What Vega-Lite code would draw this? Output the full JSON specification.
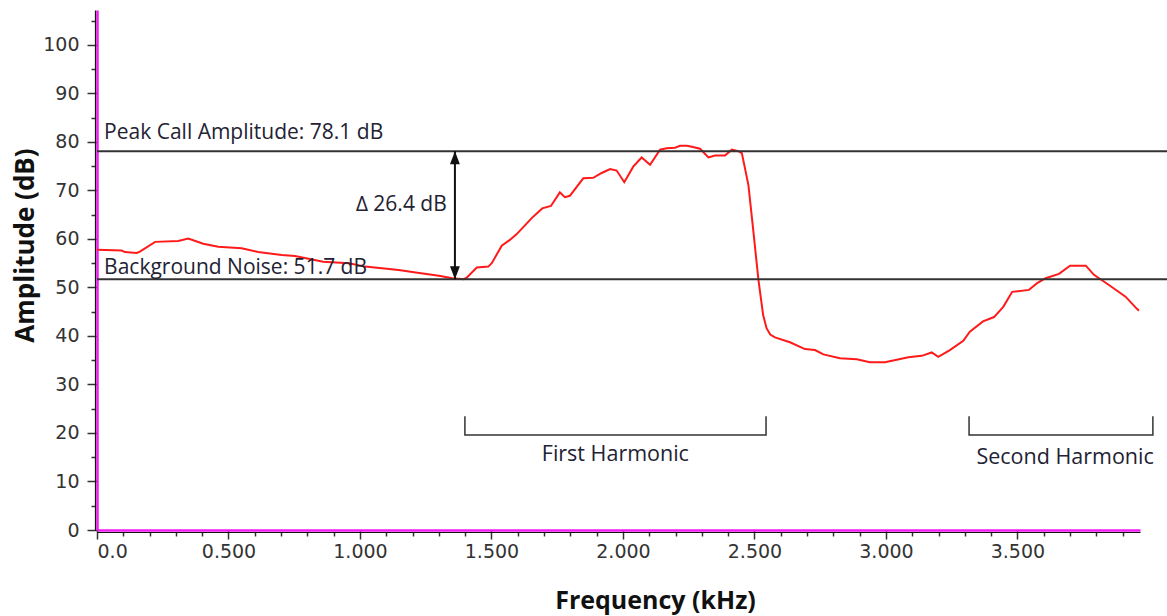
{
  "$schema": "https://vega.github.io/schema/vega-lite/v6.json",
  "width": 1043,
  "height": 520,
  "autosize": {"type": "none"},
  "padding": {"left": 97, "top": 10, "right": 27, "bottom": 86},
  "background": "white",
  "config": {"view": {"stroke": null}, "font": "Open Sans"},
  "resolve": {"axis": {"x": "independent", "y": "independent"}},
  "datasets": {
    "spectrum": [
      {"khz": 0.0, "db": 57.8}, {"khz": 0.094, "db": 57.6}, {"khz": 0.106, "db": 57.3}, {"khz": 0.151, "db": 57.1},
      {"khz": 0.163, "db": 57.4}, {"khz": 0.221, "db": 59.4}, {"khz": 0.309, "db": 59.6}, {"khz": 0.347, "db": 60.1},
      {"khz": 0.404, "db": 59.0}, {"khz": 0.461, "db": 58.4}, {"khz": 0.55, "db": 58.1}, {"khz": 0.613, "db": 57.3},
      {"khz": 0.702, "db": 56.7}, {"khz": 0.753, "db": 56.5}, {"khz": 0.86, "db": 55.3}, {"khz": 0.958, "db": 55.0},
      {"khz": 1.02, "db": 54.3}, {"khz": 1.147, "db": 53.6}, {"khz": 1.212, "db": 53.1}, {"khz": 1.3, "db": 52.4},
      {"khz": 1.351, "db": 51.9}, {"khz": 1.395, "db": 51.7}, {"khz": 1.406, "db": 52.0}, {"khz": 1.444, "db": 54.1},
      {"khz": 1.488, "db": 54.3}, {"khz": 1.501, "db": 55.0}, {"khz": 1.539, "db": 58.6}, {"khz": 1.57, "db": 59.8},
      {"khz": 1.596, "db": 61.0}, {"khz": 1.653, "db": 64.3}, {"khz": 1.693, "db": 66.3}, {"khz": 1.726, "db": 66.8},
      {"khz": 1.76, "db": 69.6}, {"khz": 1.779, "db": 68.6}, {"khz": 1.798, "db": 68.9}, {"khz": 1.849, "db": 72.5},
      {"khz": 1.887, "db": 72.6}, {"khz": 1.919, "db": 73.6}, {"khz": 1.951, "db": 74.4}, {"khz": 1.976, "db": 74.1},
      {"khz": 2.005, "db": 71.7}, {"khz": 2.039, "db": 74.9}, {"khz": 2.071, "db": 76.8}, {"khz": 2.103, "db": 75.3},
      {"khz": 2.141, "db": 78.4}, {"khz": 2.166, "db": 78.7}, {"khz": 2.198, "db": 78.8}, {"khz": 2.217, "db": 79.2},
      {"khz": 2.243, "db": 79.2}, {"khz": 2.262, "db": 79.0}, {"khz": 2.293, "db": 78.6}, {"khz": 2.325, "db": 76.8},
      {"khz": 2.35, "db": 77.2}, {"khz": 2.388, "db": 77.2}, {"khz": 2.414, "db": 78.4}, {"khz": 2.439, "db": 78.1},
      {"khz": 2.452, "db": 77.7}, {"khz": 2.477, "db": 71.1}, {"khz": 2.496, "db": 61.5}, {"khz": 2.515, "db": 51.6},
      {"khz": 2.533, "db": 44.3}, {"khz": 2.546, "db": 41.6}, {"khz": 2.56, "db": 40.3}, {"khz": 2.578, "db": 39.7},
      {"khz": 2.635, "db": 38.7}, {"khz": 2.692, "db": 37.3}, {"khz": 2.73, "db": 37.1}, {"khz": 2.762, "db": 36.2},
      {"khz": 2.825, "db": 35.4}, {"khz": 2.889, "db": 35.2}, {"khz": 2.939, "db": 34.6}, {"khz": 2.996, "db": 34.6},
      {"khz": 3.041, "db": 35.1}, {"khz": 3.085, "db": 35.6}, {"khz": 3.136, "db": 35.9}, {"khz": 3.174, "db": 36.6},
      {"khz": 3.199, "db": 35.7}, {"khz": 3.243, "db": 37.1}, {"khz": 3.294, "db": 39.0}, {"khz": 3.319, "db": 40.9},
      {"khz": 3.369, "db": 43.0}, {"khz": 3.411, "db": 43.9}, {"khz": 3.446, "db": 46.0}, {"khz": 3.48, "db": 49.1},
      {"khz": 3.544, "db": 49.5}, {"khz": 3.575, "db": 50.9}, {"khz": 3.607, "db": 51.9}, {"khz": 3.658, "db": 52.8},
      {"khz": 3.7, "db": 54.5}, {"khz": 3.76, "db": 54.5}, {"khz": 3.791, "db": 52.6}, {"khz": 3.848, "db": 50.5},
      {"khz": 3.911, "db": 48.1}, {"khz": 3.949, "db": 45.9}, {"khz": 3.962, "db": 45.2}
    ],
    "levels": [
      {"level": "Peak Call Amplitude", "db": 78.1, "khz": 0, "khz2": 4.2},
      {"level": "Background Noise", "db": 51.7, "khz": 0, "khz2": 4.2}
    ],
    "brackets": [
      {"band": "First Harmonic", "seq": 1, "khz": 1.399, "db": 23.3},
      {"band": "First Harmonic", "seq": 2, "khz": 1.399, "db": 19.6},
      {"band": "First Harmonic", "seq": 3, "khz": 2.544, "db": 19.6},
      {"band": "First Harmonic", "seq": 4, "khz": 2.544, "db": 23.3},
      {"band": "Second Harmonic", "seq": 1, "khz": 3.316, "db": 23.3},
      {"band": "Second Harmonic", "seq": 2, "khz": 3.316, "db": 19.6},
      {"band": "Second Harmonic", "seq": 3, "khz": 4.015, "db": 19.6},
      {"band": "Second Harmonic", "seq": 4, "khz": 4.015, "db": 23.3}
    ]
  },
  "layer": [
    {
      "data": {"name": "spectrum"},
      "mark": {"type": "line", "color": "#ff1a1a", "strokeWidth": 2, "interpolate": "linear"},
      "encoding": {
        "x": {
          "field": "khz", "type": "quantitative",
          "scale": {"domain": [0, 3.966], "nice": false, "zero": false},
          "axis": {
            "orient": "bottom",
            "title": "Frequency (kHz)",
            "values": [0, 0.5, 1, 1.5, 2, 2.5, 3, 3.5],
            "labelExpr": "datum.value === 0 ? '0.0' : format(datum.value, '.3f')",
            "labelFlush": true,
            "tickSize": 9,
            "grid": false,
            "domainColor": "#f01df0", "domainWidth": 2.5,
            "tickColor": "#333333", "tickWidth": 1.5,
            "labelFont": "DejaVu Sans", "labelFontSize": 19, "labelColor": "#333333", "labelPadding": 3,
            "titleFont": "Open Sans", "titleFontWeight": "bold", "titleFontSize": 25, "titleColor": "#111111",
            "titleX": 558, "titleY": 70, "titleAlign": "center", "titleBaseline": "middle"
          }
        },
        "y": {
          "field": "db", "type": "quantitative",
          "scale": {"domain": [0, 107.2], "nice": false, "zero": false},
          "axis": {
            "orient": "left",
            "title": "Amplitude (dB)",
            "values": [0, 10, 20, 30, 40, 50, 60, 70, 80, 90, 100],
            "tickSize": 10,
            "grid": false,
            "domainColor": "#f01df0", "domainWidth": 2.5,
            "tickColor": "#333333", "tickWidth": 1.5,
            "labelFont": "DejaVu Sans", "labelFontSize": 19, "labelColor": "#333333", "labelPadding": 8,
            "titleFont": "Open Sans", "titleFontWeight": "bold", "titleFontSize": 26, "titleColor": "#111111",
            "titleX": -72, "titleY": 235, "titleAngle": 270, "titleAlign": "center", "titleBaseline": "middle"
          }
        }
      }
    },
    {
      "data": {"name": "levels"},
      "mark": {"type": "rule", "color": "#333333", "strokeWidth": 2},
      "encoding": {
        "x": {
          "field": "khz", "type": "quantitative",
          "axis": {
            "orient": "bottom", "title": null, "labels": false, "grid": false, "offset": 2,
            "domain": true, "domainColor": "#111111", "domainWidth": 1.2,
            "values": [0.1, 0.2, 0.3, 0.4, 0.6, 0.7, 0.8, 0.9, 1.1, 1.2, 1.3, 1.4, 1.6, 1.7, 1.8, 1.9, 2.1, 2.2, 2.3, 2.4, 2.6, 2.7, 2.8, 2.9, 3.1, 3.2, 3.3, 3.4, 3.6, 3.7, 3.8, 3.9],
            "tickSize": 4, "tickColor": "#333333", "tickWidth": 1.5
          }
        },
        "x2": {"field": "khz2"},
        "y": {
          "field": "db", "type": "quantitative",
          "axis": {
            "orient": "left", "title": null, "labels": false, "grid": false, "offset": 2,
            "domain": true, "domainColor": "#111111", "domainWidth": 1.2,
            "values": [5, 15, 25, 35, 45, 55, 65, 75, 85, 95, 105],
            "tickSize": 4, "tickColor": "#333333", "tickWidth": 1.5
          }
        }
      }
    },
    {
      "data": {"values": [{"khz": 1.361, "db": 51.7, "db2": 78.1}]},
      "mark": {"type": "rule", "color": "#111111", "strokeWidth": 2},
      "encoding": {
        "x": {"field": "khz", "type": "quantitative", "axis": null},
        "y": {"field": "db", "type": "quantitative", "axis": null},
        "y2": {"field": "db2"}
      }
    },
    {
      "data": {"values": [{"khz": 1.361, "db": 78.1, "head": "up"}, {"khz": 1.361, "db": 51.7, "head": "down"}]},
      "mark": {"type": "point", "filled": true, "color": "#111111", "opacity": 1, "size": 676},
      "encoding": {
        "x": {"field": "khz", "type": "quantitative", "axis": null},
        "y": {"field": "db", "type": "quantitative", "axis": null},
        "shape": {
          "field": "head", "type": "nominal", "legend": null,
          "scale": {"domain": ["up", "down"], "range": ["M0,0L-0.38,1L0.38,1Z", "M0,0L-0.38,-1L0.38,-1Z"]}
        }
      }
    },
    {
      "data": {"name": "brackets"},
      "mark": {"type": "line", "color": "#333333", "strokeWidth": 1.5, "strokeCap": "square"},
      "encoding": {
        "x": {"field": "khz", "type": "quantitative", "axis": null},
        "y": {"field": "db", "type": "quantitative", "axis": null},
        "detail": {"field": "band"},
        "order": {"field": "seq", "type": "quantitative"}
      }
    },
    {
      "data": {"values": [
        {"khz": 0.027, "db": 81.8, "note": "Peak Call Amplitude: 78.1 dB"},
        {"khz": 0.027, "db": 54.1, "note": "Background Noise: 51.7 dB"}
      ]},
      "mark": {"type": "text", "align": "left", "baseline": "middle", "font": "Open Sans", "fontSize": 21, "color": "#222233"},
      "encoding": {
        "x": {"field": "khz", "type": "quantitative", "axis": null},
        "y": {"field": "db", "type": "quantitative", "axis": null},
        "text": {"field": "note"}
      }
    },
    {
      "data": {"values": [{"khz": 1.33, "db": 67.0, "note": "∆ 26.4 dB"}]},
      "mark": {"type": "text", "align": "right", "baseline": "middle", "font": "Open Sans", "fontSize": 21, "color": "#222233"},
      "encoding": {
        "x": {"field": "khz", "type": "quantitative", "axis": null},
        "y": {"field": "db", "type": "quantitative", "axis": null},
        "text": {"field": "note"}
      }
    },
    {
      "data": {"values": [
        {"khz": 1.971, "db": 15.5, "note": "First Harmonic"},
        {"khz": 3.681, "db": 14.9, "note": "Second Harmonic"}
      ]},
      "mark": {"type": "text", "align": "center", "baseline": "middle", "font": "Open Sans", "fontSize": 21.5, "color": "#222233"},
      "encoding": {
        "x": {"field": "khz", "type": "quantitative", "axis": null},
        "y": {"field": "db", "type": "quantitative", "axis": null},
        "text": {"field": "note"}
      }
    }
  ]
}
